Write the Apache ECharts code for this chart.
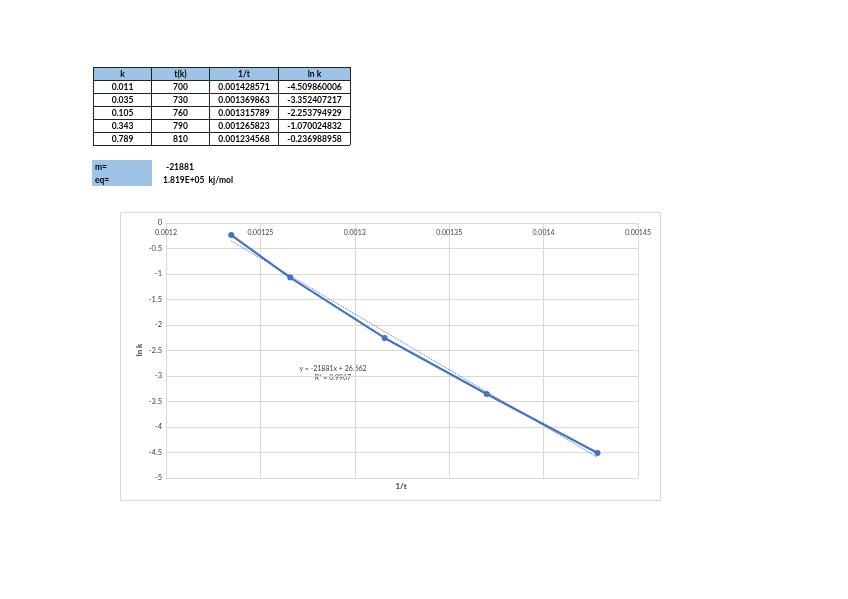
<!DOCTYPE html>
<html><head><meta charset="utf-8">
<script src="https://cdn.jsdelivr.net/npm/echarts@6/dist/echarts.min.js"></script>
<style>html,body{margin:0;padding:0;background:#fff}#c{width:848px;height:599px}</style>
</head><body><div id="c"></div>
<script>
// ---- data ----
var headers = ['k', 't(k)', '1/t', 'ln k'];
var kVals = ['0.011', '0.035', '0.105', '0.343', '0.789'];
var tVals = ['700', '730', '760', '790', '810'];
var invTStr = ['0.001428571', '0.001369863', '0.001315789', '0.001265823', '0.001234568'];
var lnKStr = ['-4.509860006', '-3.352407217', '-2.253794929', '-1.070024832', '-0.236988958'];
var invT = [0.001428571, 0.001369863, 0.001315789, 0.001265823, 0.001234568];
var lnK = [-4.509860006, -3.352407217, -2.253794929, -1.070024832, -0.236988958];
var trendX = [0.001234568, 0.001428571];
var trendY = [-0.3517, -4.5966];
var mLabel = 'm=', mValue = '-21881';
var eqLabel = 'eq=', eqValue = '1.819E+05  kj/mol';
var trendText1 = 'y = -21881x + 26.662';
var trendText2 = 'R² = 0.9967';
var xTitle = '1/t', yTitle = 'ln k';

// ---- build ----
var FONT = 'Lato, "Open Sans", sans-serif';
var colX = [93, 151, 209, 278, 350];
var rowY = [67, 80, 93, 106, 119, 132, 145];
var g = [];
g.push({type:'rect', shape:{x:120.5, y:212.5, width:540, height:288}, style:{fill:'none', stroke:'#d9d9d9', lineWidth:1}, z:-10});
g.push({type:'rect', shape:{x:colX[0], y:rowY[0], width:colX[4]-colX[0], height:rowY[1]-rowY[0]}, style:{fill:'#9dc3e6'}});
for (var r = 0; r < rowY.length; r++) {
  g.push({type:'line', shape:{x1:colX[0], y1:rowY[r]+0.5, x2:colX[4], y2:rowY[r]+0.5}, style:{stroke:'#222', lineWidth:1}});
}
for (var c = 0; c < colX.length; c++) {
  g.push({type:'line', shape:{x1:colX[c]+0.5, y1:rowY[0], x2:colX[c]+0.5, y2:rowY[rowY.length-1]}, style:{stroke:'#222', lineWidth:1}});
}
var rows = [headers];
for (var i = 0; i < kVals.length; i++) rows.push([kVals[i], tVals[i], invTStr[i], lnKStr[i]]);
rows.forEach(function(row, ri){
  row.forEach(function(txt, ci){
    g.push({type:'text', x:(colX[ci]+colX[ci+1])/2+0.5, y:(rowY[ri]+rowY[ri+1])/2+0.5,
      style:{text:txt, fill:'#000', font:'bold 8.5px '+FONT, textAlign:'center', textVerticalAlign:'middle'}});
  });
});
g.push({type:'rect', shape:{x:92, y:160, width:60, height:26}, style:{fill:'#9dc3e6'}});
g.push({type:'text', x:95, y:167, style:{text:mLabel, fill:'#000', font:'bold 8.5px '+FONT, textVerticalAlign:'middle'}});
g.push({type:'text', x:95, y:180, style:{text:eqLabel, fill:'#000', font:'bold 8.5px '+FONT, textVerticalAlign:'middle'}});
g.push({type:'text', x:166, y:167, style:{text:mValue, fill:'#000', font:'bold 8.5px '+FONT, textVerticalAlign:'middle'}});
g.push({type:'text', x:163, y:180, style:{text:eqValue, fill:'#000', font:'bold 8.5px '+FONT, textVerticalAlign:'middle'}});
g.push({type:'text', x:401, y:486, style:{text:xTitle, fill:'#404040', font:'bold 8px '+FONT, textAlign:'center', textVerticalAlign:'middle'}});
g.push({type:'text', x:139, y:350, rotation:Math.PI/2, style:{text:yTitle, fill:'#404040', font:'bold 8px '+FONT, textAlign:'center', textVerticalAlign:'middle'}});
g.push({type:'text', x:333, y:369, style:{text:trendText1, fill:'#404040', font:'7px '+FONT, textAlign:'center', textVerticalAlign:'middle'}});
g.push({type:'text', x:333, y:378, style:{text:trendText2, fill:'#404040', font:'7px '+FONT, textAlign:'center', textVerticalAlign:'middle'}});

var chart = echarts.init(document.getElementById('c'), null, {renderer:'canvas'});
chart.setOption({
  animation:false,
  backgroundColor:'#fff',
  grid:{left:166, top:223, right:210, bottom:121, containLabel:false},
  xAxis:{type:'value', min:0.0012, max:0.00145, interval:0.00005, position:'top',
    axisLine:{show:true, lineStyle:{color:'#d9d9d9'}},
    axisTick:{show:false},
    axisLabel:{inside:true, color:'#404040', fontSize:7, fontFamily:FONT, margin:6,
      formatter:function(v){return String(Number(v.toPrecision(6)));}},
    splitLine:{show:true, lineStyle:{color:'#d9d9d9', width:1}}},
  yAxis:{type:'value', min:-5, max:0, interval:0.5,
    axisLine:{show:false}, axisTick:{show:false},
    axisLabel:{color:'#404040', fontSize:7.5, fontFamily:FONT, margin:4},
    splitLine:{show:true, lineStyle:{color:'#d9d9d9', width:1}}},
  series:[
    {type:'line', data:invT.map(function(x,i){return [x, lnK[i]];}),
      symbol:'circle', symbolSize:6, lineStyle:{color:'#4472c4', width:2.2},
      itemStyle:{color:'#4472c4'}, z:3},
    {type:'line', data:trendX.map(function(x,i){return [x, trendY[i]];}),
      symbol:'none', lineStyle:{color:'#4472c4', width:1, type:'dotted'}, z:2}
  ],
  graphic:g
});
</script></body></html>
